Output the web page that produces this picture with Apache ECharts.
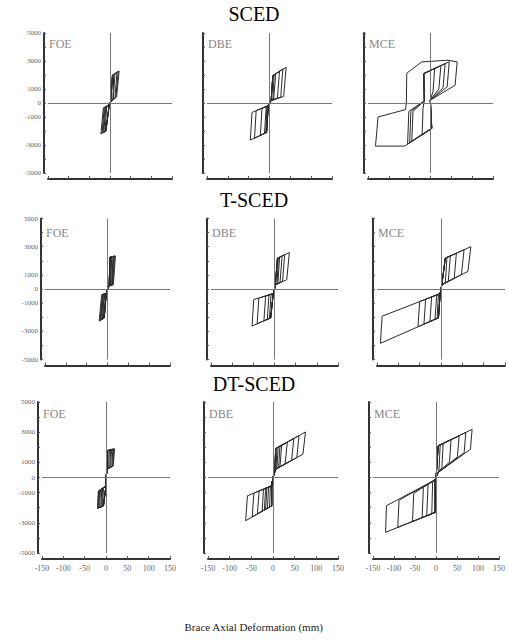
<!DOCTYPE html>
<html>
<head>
<meta charset="utf-8">
<script src="https://cdn.jsdelivr.net/npm/echarts@6/dist/echarts.min.js"></script>
<style>
html,body{margin:0;padding:0;background:#fff;}
#c{width:508px;height:643px;}
</style>
</head>
<body>
<div id="c"></div>
<script>
// ---- Data (brace axial deformation mm, brace axial force kN) ----
const rowTitles = ['SCED', 'T-SCED', 'DT-SCED'];
const levelNames = ['FOE', 'DBE', 'MCE'];
const xTickLabels = [-150, -100, -50, 0, 50, 100, 150];
const yTickLabels = [5000, 3000, 1000, 0, -1000, -3000, -5000];
const xAxisTitle = 'Brace Axial Deformation (mm)';

const scedFOE = [
  [[0,0],[2,150],[6,1980],[9,2040],[7,250],[3,120],[0,0],[-2,-150],[-10,-2000],[-12,-2040],[-8,-260],[-3,-150],[0,0]],
  [[0,0],[2,150],[6,1980],[12,2090],[8,280],[3,120],[0,0],[-2,-150],[-10,-2000],[-15,-2080],[-10,-280],[-3,-150],[0,0]],
  [[0,0],[2,150],[6,1980],[17,2190],[12,350],[3,120],[0,0],[-2,-150],[-10,-2000],[-17,-2110],[-12,-300],[-3,-150],[0,0]],
  [[0,0],[2,150],[6,1980],[20,2250],[14,400],[3,120],[0,0],[-2,-150],[-10,-2000],[-19,-2150],[-14,-320],[-3,-150],[0,0]],
  [[0,0],[2,150],[6,1980],[22,2290],[16,430],[3,120],[0,0],[-2,-150],[-10,-2000],[-22,-2200],[-16,-350],[-3,-150],[0,0]]
];
const scedDBE = [
  [[0,0],[4,170],[8,1950],[11,2020],[8,250],[4,170],[0,0],[-3,-190],[-7,-2100],[-9,-2130],[-6,-260],[-3,-190],[0,0]],
  [[0,0],[4,170],[8,1950],[15,2100],[10,280],[4,170],[0,0],[-3,-190],[-7,-2100],[-12,-2170],[-8,-300],[-3,-190],[0,0]],
  [[0,0],[4,170],[8,1950],[24,2270],[19,360],[4,170],[0,0],[-3,-190],[-7,-2100],[-22,-2320],[-18,-380],[-3,-190],[0,0]],
  [[0,0],[4,170],[8,1950],[32,2430],[27,420],[4,170],[0,0],[-3,-190],[-7,-2100],[-36,-2520],[-32,-540],[-3,-190],[0,0]],
  [[0,0],[4,170],[8,1950],[40,2560],[34,470],[4,170],[0,0],[-3,-190],[-7,-2100],[-46,-2650],[-42,-670],[-3,-190],[0,0]]
];
const scedMCE = [
  [[0,0],[3,-1800],[-20,-2280],[-18,-400],[-15,150],[-16,2100],[10,2480],[6,800],[-1,193],[0,0]],
  [[0,0],[3,-1800],[-45,-2745],[-42,-600],[-15,150],[-16,2100],[25,2670],[20,1000],[-1,193],[0,0]],
  [[0,0],[3,-1800],[-50,-2830],[-47,-600],[-15,150],[-16,2100],[35,2810],[30,1080],[-1,193],[0,0]],
  [[0,0],[3,-1800],[-55,-2930],[-52,-600],[-15,150],[-16,2100],[45,2950],[40,1150],[-1,193],[0,0]],
  [[0,0],[3,-1833],[-62,-3079],[-132,-3079],[-126,-1002],[-60,-470],[-58,0],[-57,2126],[-21,2935],[42,3057],[64,2935],[59,1267],[-1,193],[0,0]]
];

const tscedFOE = [
  [[0,0],[4,230],[6,2260],[8,2275],[7,250],[4,230],[0,0],[-3,-330],[-8,-2045],[-10,-2080],[-7,-350],[-3,-330],[0,0]],
  [[0,0],[4,230],[6,2260],[10,2290],[8,260],[4,230],[0,0],[-3,-330],[-8,-2045],[-12,-2120],[-8,-360],[-3,-330],[0,0]],
  [[0,0],[4,230],[6,2260],[13,2310],[10,270],[4,230],[0,0],[-3,-330],[-8,-2045],[-14,-2160],[-10,-370],[-3,-330],[0,0]],
  [[0,0],[4,230],[6,2260],[15,2320],[11,280],[4,230],[0,0],[-3,-330],[-8,-2045],[-16,-2200],[-11,-380],[-3,-330],[0,0]],
  [[0,0],[4,230],[6,2260],[17,2335],[12,290],[4,230],[0,0],[-3,-330],[-8,-2045],[-18,-2240],[-12,-390],[-3,-330],[0,0]],
  [[0,0],[4,230],[6,2260],[19,2350],[14,300],[4,230],[0,0],[-3,-330],[-8,-2045],[-20,-2280],[-14,-400],[-3,-330],[0,0]]
];
const tscedDBE = [
  [[0,0],[2,300],[7,2185],[9,2210],[6,340],[2,300],[0,0],[-3,-330],[-9,-2045],[-12,-2090],[-8,-370],[-3,-330],[0,0]],
  [[0,0],[2,300],[7,2185],[12,2255],[8,380],[2,300],[0,0],[-3,-330],[-9,-2045],[-17,-2150],[-13,-420],[-3,-330],[0,0]],
  [[0,0],[2,300],[7,2185],[18,2340],[13,450],[2,300],[0,0],[-3,-330],[-9,-2045],[-25,-2260],[-21,-490],[-3,-330],[0,0]],
  [[0,0],[2,300],[7,2185],[24,2430],[19,530],[2,300],[0,0],[-3,-330],[-9,-2045],[-41,-2470],[-37,-640],[-3,-330],[0,0]],
  [[0,0],[2,300],[7,2185],[35,2585],[29,660],[2,300],[0,0],[-3,-330],[-9,-2045],[-53,-2630],[-49,-750],[-3,-330],[0,0]]
];
const tscedMCE = [
  [[0,0],[2,305],[10,2185],[14,2240],[10,420],[2,305],[0,0],[-2,-330],[-6,-2045],[-9,-2085],[-6,-380],[-2,-330],[0,0]],
  [[0,0],[2,305],[10,2185],[22,2350],[17,540],[2,305],[0,0],[-2,-330],[-6,-2045],[-14,-2150],[-10,-420],[-2,-330],[0,0]],
  [[0,0],[2,305],[10,2185],[36,2540],[31,755],[2,305],[0,0],[-2,-330],[-6,-2045],[-26,-2306],[-22,-560],[-2,-330],[0,0]],
  [[0,0],[2,305],[10,2185],[54,2785],[48,1030],[2,305],[0,0],[-2,-330],[-6,-2045],[-40,-2490],[-36,-720],[-2,-330],[0,0]],
  [[0,0],[2,305],[10,2185],[70,3000],[63,1245],[2,305],[0,0],[-2,-330],[-6,-2045],[-54,-2680],[-50,-890],[-2,-330],[0,0]],
  [[0,0],[-2,-330],[-6,-2045],[-142,-3850],[-138,-1930],[-2,-330],[0,0]]
];

const dtscedFOE = [
  [[0,0],[3,550],[2,1760],[5,1800],[4,600],[3,550],[0,0],[0,-550],[-6,-1870],[-8,-1900],[-6,-720],[0,-550],[0,0]],
  [[0,0],[3,550],[2,1760],[8,1830],[6,640],[3,550],[0,0],[0,-550],[-6,-1870],[-10,-1930],[-8,-760],[0,-550],[0,0]],
  [[0,0],[3,550],[2,1760],[11,1855],[9,670],[3,550],[0,0],[0,-550],[-6,-1870],[-12,-1955],[-10,-790],[0,-550],[0,0]],
  [[0,0],[3,550],[2,1760],[13,1870],[11,700],[3,550],[0,0],[0,-550],[-6,-1870],[-15,-1990],[-13,-830],[0,-550],[0,0]],
  [[0,0],[3,550],[2,1760],[16,1885],[14,735],[3,550],[0,0],[0,-550],[-6,-1870],[-17,-2015],[-15,-860],[0,-550],[0,0]],
  [[0,0],[3,550],[2,1760],[18,1895],[16,755],[3,550],[0,0],[0,-550],[-6,-1870],[-19,-2035],[-17,-880],[0,-550],[0,0]],
  [[0,0],[3,550],[2,1760],[20,1900],[17,770],[3,550],[0,0],[0,-550],[-6,-1870],[-20,-2050],[-18,-900],[0,-550],[0,0]]
];
const dtscedDBE = [
  [[0,0],[5,550],[6,1914],[9,1960],[7,575],[6,550],[0,0],[-3,-550],[-3,-1870],[-8,-1950],[-6,-590],[-3,-550],[0,0]],
  [[0,0],[5,550],[6,1914],[12,2010],[9,600],[6,550],[0,0],[-3,-550],[-3,-1870],[-13,-2035],[-10,-630],[-3,-550],[0,0]],
  [[0,0],[5,550],[6,1914],[16,2075],[13,650],[6,550],[0,0],[-3,-550],[-3,-1870],[-17,-2100],[-14,-680],[-3,-550],[0,0]],
  [[0,0],[5,550],[6,1914],[20,2137],[16,707],[6,550],[0,0],[-3,-550],[-3,-1870],[-20,-2150],[-17,-715],[-3,-550],[0,0]],
  [[0,0],[5,550],[6,1914],[33,2343],[28,895],[6,550],[0,0],[-3,-550],[-3,-1870],[-25,-2233],[-22,-775],[-3,-550],[0,0]],
  [[0,0],[5,550],[6,1914],[48,2582],[43,1131],[6,550],[0,0],[-3,-550],[-3,-1870],[-36,-2415],[-32,-890],[-3,-550],[0,0]],
  [[0,0],[5,550],[6,1914],[60,2773],[55,1320],[6,550],[0,0],[-3,-550],[-3,-1870],[-48,-2613],[-44,-1030],[-3,-550],[0,0]],
  [[0,0],[5,550],[6,1914],[75,3014],[69,1540],[6,550],[0,0],[-3,-550],[-3,-1870],[-63,-2860],[-59,-1210],[-3,-550],[0,0]]
];
const dtscedMCE = [
  [[0,0],[2,660],[5,2090],[10,2160],[7,430],[5,330],[0,0],[-2,-154],[-2,-2310],[-10,-2400],[-8,-260],[-2,-154],[0,0]],
  [[0,0],[2,660],[5,2090],[17,2250],[14,650],[5,330],[0,0],[-2,-154],[-2,-2310],[-22,-2540],[-19,-450],[-2,-154],[0,0]],
  [[0,0],[2,660],[5,2090],[36,2530],[32,1020],[5,330],[0,0],[-2,-154],[-2,-2310],[-33,-2665],[-30,-640],[-2,-154],[0,0]],
  [[0,0],[2,660],[5,2090],[55,2750],[51,1360],[5,330],[0,0],[-2,-154],[-2,-2310],[-56,-2925],[-53,-1045],[-2,-154],[0,0]],
  [[0,0],[2,660],[5,2090],[71,2990],[67,1640],[5,330],[0,0],[-2,-154],[-2,-2310],[-91,-3300],[-88,-1505],[-2,-154],[0,0]],
  [[0,0],[2,660],[5,2090],[86,3190],[82,1870],[5,330],[0,0],[-2,-154],[-2,-2310],[-120,-3630],[-118,-1870],[-2,-154],[0,0]]
];

const panelData = [
  [scedFOE, scedDBE, scedMCE],
  [tscedFOE, tscedDBE, tscedMCE],
  [dtscedFOE, dtscedDBE, dtscedMCE]
];

// ---- Layout ----
const rowLayout = [ {top: 33, height: 140, titleY: 15, labelDy: 5},
                    {top: 218.5, height: 141, titleY: 201, labelDy: 8},
                    {top: 402, height: 151, titleY: 385, labelDy: 6} ];
const colLayout = [
  [{left: 48, width: 124}, {left: 207, width: 125}, {left: 368, width: 125}],
  [{left: 45, width: 125}, {left: 211, width: 127}, {left: 377, width: 128}],
  [{left: 42, width: 128}, {left: 208, width: 130}, {left: 373, width: 130}]
];

const SERIF = '"Liberation Serif", "DejaVu Serif", serif';
const grids = [], xAxes = [], yAxes = [], series = [], graphics = [];

for (let r = 0; r < 3; r++) {
  graphics.push({
    type: 'text', left: 'center', top: rowLayout[r].titleY - 11,
    style: { text: rowTitles[r], font: '20px ' + SERIF, fill: '#000' }
  });
  for (let c = 0; c < 3; c++) {
    const idx = r * 3 + c;
    const L = colLayout[r][c];
    grids.push({ left: L.left, top: rowLayout[r].top, width: L.width, height: rowLayout[r].height });
    xAxes.push({
      gridIndex: idx, type: 'value', min: -150, max: 150, interval: 50, offset: 6,
      axisLine: { onZero: false, lineStyle: { color: '#333', width: 2 } },
      axisTick: { show: true, inside: true, length: 3, lineStyle: { color: '#555', width: 1 } },
      axisLabel: { show: r === 2, fontSize: 8, color: '#666', fontFamily: SERIF, margin: 5,
                   formatter: v => xTickLabels.includes(v) ? String(v) : '' },
      splitLine: { show: false }
    });
    yAxes.push({
      gridIndex: idx, type: 'value', min: -5000, max: 5000, interval: 1000, offset: 4,
      axisLine: { onZero: false, lineStyle: { color: '#333', width: 2 } },
      axisTick: { show: true, inside: true, length: 2, lineStyle: { color: '#555', width: 1 } },
      axisLabel: { show: c === 0, fontSize: 7, color: '#666', fontFamily: SERIF, margin: 3,
                   formatter: v => yTickLabels.includes(v) ? String(v) : '' },
      splitLine: { show: false }
    });
    const pts = [];
    panelData[r][c].forEach(cycle => cycle.forEach(p => pts.push(p)));
    series.push({
      type: 'line', xAxisIndex: idx, yAxisIndex: idx, data: pts, showSymbol: false, symbol: 'none',
      lineStyle: { color: '#2a2a2a', width: 1 }, animation: false, silent: true,
      markLine: {
        silent: true, symbol: 'none', label: { show: false },
        lineStyle: { color: '#777', width: 1, type: 'solid' },
        data: [{ yAxis: 0 }, { xAxis: 0 }]
      }
    });
    graphics.push({
      type: 'text', left: L.left + 1, top: rowLayout[r].top + rowLayout[r].labelDy,
      style: { text: levelNames[c], font: '12px ' + SERIF, fill: '#888' }
    });
  }
}
graphics.push({
  type: 'text', left: 'center', top: 621,
  style: { text: xAxisTitle, font: '11px ' + SERIF, fill: '#222' }
});

const chart = echarts.init(document.getElementById('c'), null, { renderer: 'svg' });
chart.setOption({
  backgroundColor: '#fff',
  animation: false,
  grid: grids, xAxis: xAxes, yAxis: yAxes, series: series, graphic: graphics
});
</script>
</body>
</html>
